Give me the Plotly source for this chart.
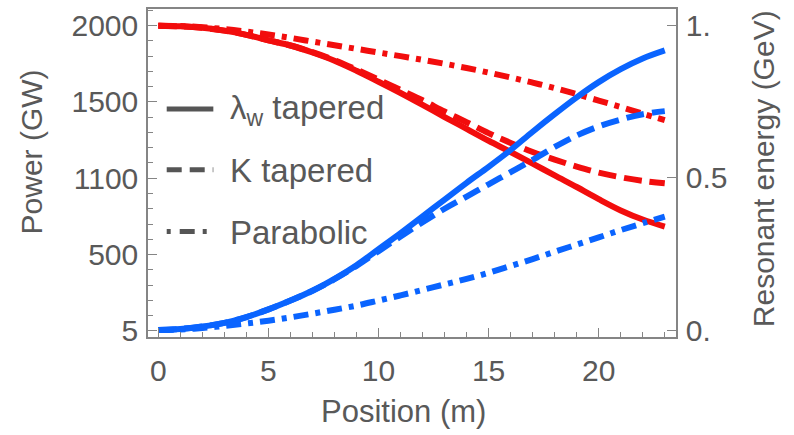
import plotly.graph_objects as go

# ---------------- data ----------------
position = list(range(0, 24))

# Resonant energy (GeV), right axis (red)
energy_lw = [1.000, 0.998, 0.993, 0.984, 0.970, 0.952, 0.935, 0.912, 0.885, 0.852,
             0.816, 0.779, 0.740, 0.700, 0.661, 0.622, 0.585, 0.547, 0.508, 0.470,
             0.430, 0.393, 0.363, 0.340]
energy_k = [1.000, 0.998, 0.993, 0.984, 0.970, 0.952, 0.935, 0.913, 0.887, 0.856,
            0.823, 0.789, 0.755, 0.718, 0.683, 0.647, 0.615, 0.585, 0.560, 0.537,
            0.517, 0.502, 0.490, 0.482]
energy_par = [1.000, 0.999, 0.995, 0.989, 0.981, 0.971, 0.960, 0.948, 0.936, 0.924,
              0.912, 0.900, 0.888, 0.875, 0.861, 0.846, 0.830, 0.813, 0.795, 0.775,
              0.754, 0.733, 0.711, 0.690]

# Power (GW), left axis (blue)
power_lw = [5, 12, 28, 52, 90, 140, 198, 262, 340, 430,
            535, 640, 750, 860, 970, 1075, 1185, 1305, 1420, 1530,
            1630, 1715, 1785, 1838]
power_k = [5, 12, 28, 52, 90, 140, 198, 262, 338, 425,
           522, 618, 712, 800, 880, 960, 1040, 1120, 1205, 1280,
           1340, 1385, 1420, 1440]
power_par = [5, 8, 18, 32, 48, 66, 88, 112, 138, 165,
             198, 232, 268, 304, 340, 380, 425, 470, 518, 565,
             612, 660, 705, 748]

x_ticks = [0, 5, 10, 15, 20]
power_tickvals = [5, 500, 1000, 1500, 2000]
power_ticktext = ["5", "500", "1100", "1500", "2000"]
power_minor = [100, 200, 300, 400, 600, 700, 800, 900, 1100, 1200, 1300, 1400,
               1600, 1700, 1800, 1900, 2100]
energy_tickvals = [0, 0.5, 1.0]
energy_ticktext = ["0.", "0.5", "1."]

legend_labels = ["λ<sub>w</sub> tapered", "K tapered", "Parabolic"]

# ---------------- style ----------------
RED = "#f20d0d"
BLUE = "#0a64ff"
AX = "#858585"
TXT = "#595959"
FONT = "Liberation Sans"
dash_k = "18px,8px"
dash_p = "15px,7px,5px,7px"

fig = go.Figure()

for ys, d in [(energy_lw, "solid"), (energy_k, dash_k), (energy_par, dash_p)]:
    fig.add_trace(go.Scatter(x=position, y=ys, mode="lines", yaxis="y",
                             line=dict(color=RED, width=6, dash=d, shape="spline"),
                             showlegend=False))
for ys, d in [(power_lw, "solid"), (power_k, dash_k), (power_par, dash_p)]:
    fig.add_trace(go.Scatter(x=position, y=ys, mode="lines", yaxis="y2",
                             line=dict(color=BLUE, width=6, dash=d, shape="spline"),
                             showlegend=False))

# plot area in pixels: x 148..675.7, y 9.3..337
L, R, T, B = 148, 675.7, 9.3, 337
W, H = R - L, B - T


def px(X):
    return (X - L) / W


def py(Y):
    return (B - Y) / H


# custom legend
leg_rows = [109.3, 170.0, 231.7]
leg_dash = ["solid", "15px,8px", "4px,9px,15px,8px"]
shapes = []
annotations = []
for lab, yy, d in zip(legend_labels, leg_rows, leg_dash):
    shapes.append(dict(type="line", xref="paper", yref="paper",
                       x0=px(166.7), x1=px(213.3), y0=py(yy), y1=py(yy),
                       line=dict(color="#555555", width=5, dash=d)))
    annotations.append(dict(xref="paper", yref="paper", x=px(228), y=py(yy + 1),
                            xanchor="left", yanchor="middle", showarrow=False,
                            text=lab, font=dict(family=FONT, size=33, color=TXT)))

annotations.append(dict(xref="paper", yref="paper", x=px(403), y=py(411),
                        xanchor="center", yanchor="middle", showarrow=False,
                        text="Position (m)", font=dict(family=FONT, size=31, color=TXT)))
annotations.append(dict(xref="paper", yref="paper", x=px(31.7), y=py(152),
                        xanchor="center", yanchor="middle", showarrow=False, textangle=-90,
                        text="Power (GW)", font=dict(family=FONT, size=30, color=TXT)))
annotations.append(dict(xref="paper", yref="paper", x=px(763), y=py(169),
                        xanchor="center", yanchor="middle", showarrow=False, textangle=-90,
                        text="Resonant energy (GeV)", font=dict(family=FONT, size=30, color=TXT)))

tickfont = dict(family=FONT, size=30, color=TXT)

fig.update_layout(
    width=794, height=435,
    margin=dict(l=L, r=794 - R, t=T, b=435 - B, autoexpand=False),
    paper_bgcolor="white", plot_bgcolor="white",
    showlegend=False,
    xaxis=dict(range=[-0.47, 23.51], tickvals=x_ticks, ticks="inside", ticklen=9,
               tickwidth=1.2, tickcolor=AX, showline=True, linecolor=AX, linewidth=1.5,
               mirror=True, showgrid=False, zeroline=False, tickfont=tickfont,
               ticklabelstandoff=6, automargin=False,
               minor=dict(dtick=1, tick0=0, ticks="inside", ticklen=5, tickcolor=AX,
                          tickwidth=1.2, showgrid=False)),
    yaxis=dict(side="right", range=[-0.023, 1.055], tickvals=energy_tickvals,
               ticktext=energy_ticktext, ticks="inside", ticklen=9, tickwidth=1.2,
               tickcolor=AX, showline=True, linecolor=AX, linewidth=1.5,
               showgrid=False, zeroline=False, tickfont=tickfont, ticklabelstandoff=2,
               automargin=False),
    yaxis2=dict(side="left", overlaying="y", range=[-40.9, 2109.6],
                tickvals=power_tickvals, ticktext=power_ticktext, ticks="inside",
                ticklen=9, tickwidth=1.2, tickcolor=AX, showline=True, linecolor=AX,
                linewidth=1.5, showgrid=False, zeroline=False, tickfont=tickfont,
                ticklabelstandoff=2, automargin=False,
                minor=dict(tickvals=power_minor, ticks="inside", ticklen=5,
                           tickcolor=AX, tickwidth=1.2, showgrid=False)),
    shapes=shapes,
    annotations=annotations,
)

fig.write_html("out.html",
               config={"displayModeBar": False},
               post_script="document.body.style.margin='0px';"
                           "document.body.style.overflow='hidden';")
